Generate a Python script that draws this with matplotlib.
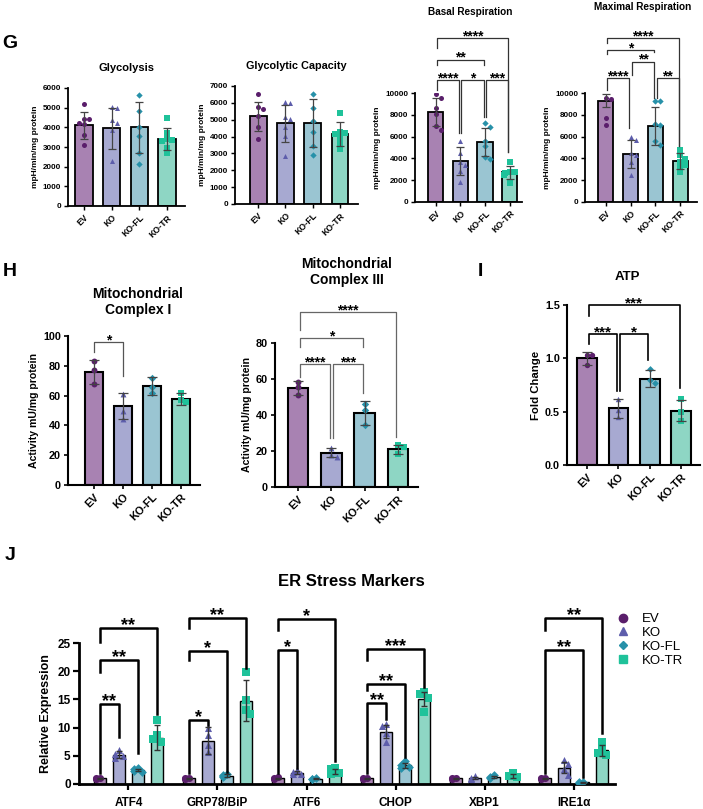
import numpy as np
import matplotlib
matplotlib.use("Agg")
import matplotlib.pyplot as plt
from matplotlib.lines import Line2D

plt.rcParams['font.family'] = ['Liberation Sans', 'DejaVu Sans']
plt.rcParams['font.weight'] = 'bold'
plt.rcParams['axes.labelweight'] = 'bold'
plt.rcParams['axes.titleweight'] = 'bold'

groups = ["EV", "KO", "KO-FL", "KO-TR"]
bar_colors = ["#A882B2", "#A7A9D1", "#9AC5D2", "#8ED6C4"]
dot_colors = ["#5A1E6B", "#5D5DAB", "#2791A9", "#1FC29A"]
markers = ["o", "^", "D", "s"]

# ---- G: Seahorse ----
glyco_mean = [4100, 3950, 4000, 3400]
glyco_sd = [700, 1030, 1300, 560]
glyco_pts = [[5190, 4420, 4400, 4230, 4150, 3610, 3100],
             [5050, 5000, 4370, 4230, 3860, 2290],
             [5650, 4850, 4000, 3550, 2700, 2150],
             [4450, 3700, 3400, 3350, 3300, 2950, 2700]]

cap_mean = [5200, 4800, 4800, 4150]
cap_sd = [850, 1100, 1400, 700]
cap_pts = [[6500, 5730, 5640, 5220, 4590, 3840],
           [6070, 5970, 5180, 5020, 4590, 4030, 2850],
           [6500, 5700, 4900, 4300, 3450, 2900],
           [5380, 4300, 4230, 4150, 3990, 3600, 3240]]

basal_mean = [8300, 3750, 5500, 2700]
basal_sd = [1300, 1280, 1320, 600]
basal_pts = [[9900, 9550, 8600, 8050, 7000, 6650],
             [5600, 4450, 3650, 3400, 2850, 1850],
             [7300, 6900, 5600, 5100, 4100, 3950],
             [3700, 2750, 2700, 2650, 2500, 1700]]

maxres_mean = [9300, 4400, 7000, 3750]
maxres_sd = [600, 1250, 1750, 700]
maxres_pts = [[9600, 9500, 7750, 7100],
              [5950, 5700, 4450, 4300, 3700, 2500],
              [9300, 9300, 7200, 7100, 5600, 5200],
              [4800, 4300, 3900, 3700, 3400, 3200, 2700]]

# ---- H: complex activity ----
c1_mean = [76, 53, 66.5, 58]
c1_sd = [8, 9, 6, 4]
c1_pts = [[83, 77, 68], [61, 50, 44], [72, 66, 62], [62, 57, 56]]

c3_mean = [55, 19, 41, 21]
c3_sd = [4, 2.5, 6.5, 2.5]
c3_pts = [[58.4, 55.3, 50.9], [21.5, 18, 17], [46, 43, 34.5], [23.5, 22.5, 18.5]]

# ---- I: ATP ----
atp_mean = [1.0, 0.53, 0.81, 0.51]
atp_sd = [0.06, 0.09, 0.08, 0.10]
atp_pts = [[1.03, 1.03, 0.94], [0.62, 0.52, 0.45], [0.90, 0.80, 0.77], [0.62, 0.50, 0.41]]

# ---- J: ER stress markers ----
er_genes = ["ATF4", "GRP78/BiP", "ATF6", "CHOP", "XBP1", "IRE1\u03b1"]
er_mean = [[1.0, 1.0, 1.0, 1.0, 1.0, 1.0],
           [5.2, 7.7, 2.0, 9.3, 1.1, 2.9],
           [2.5, 1.5, 0.9, 3.3, 1.2, 0.3],
           [8.2, 14.8, 2.2, 15.1, 1.4, 6.0]]
er_sd = [[0.1, 0.1, 0.1, 0.1, 0.1, 0.1],
         [0.6, 2.4, 0.3, 1.2, 0.2, 1.0],
         [0.2, 0.2, 0.1, 0.4, 0.2, 0.1],
         [2.2, 3.6, 0.5, 1.2, 0.3, 1.0]]
er_pts = [[[1.1, 1.0, 0.9], [1.1, 1.0, 0.9], [1.2, 1.0, 0.9], [1.1, 1.0, 0.9], [1.1, 1.0, 0.9], [1.1, 1.0, 0.9]],
          [[6.0, 5.4, 5.0, 4.6], [9.9, 8.6, 6.9, 5.6], [2.4, 2.1, 1.8, 1.7], [10.6, 10.2, 9.0, 7.5], [1.5, 1.1, 0.9], [4.3, 3.6, 2.6, 1.6]],
          [[2.9, 2.6, 2.3, 2.2], [1.8, 1.6, 1.4, 1.3], [1.1, 0.9, 0.8], [4.0, 3.4, 3.0, 2.8], [1.6, 1.3, 1.0], [0.4, 0.3, 0.2]],
          [[11.4, 8.6, 8.0, 7.4], [19.9, 14.9, 13.2, 12.4], [2.8, 2.6, 2.0, 1.8], [16.3, 15.9, 15.3, 12.8], [1.9, 1.5, 1.2], [7.4, 6.0, 5.5, 5.1]]]

# significance brackets: (from, to, height, left leg end, right leg end, label)
basal_sig = [(0, 3, 15100, 14200, 4600, '****'), (0, 2, 13100, 12600, 12600, '**'),
             (0, 1, 11200, 10300, 6300, '****'), (1, 2, 11200, 6300, 7800, '*'),
             (2, 3, 11200, 7800, 4600, '***')]
maxres_sig = [(0, 3, 15100, 14600, 5100, '****'), (0, 2, 14000, 13600, 13800, '*'),
              (1, 2, 12900, 11700, 9600, '**'), (0, 1, 11400, 10300, 6800, '****'),
              (2, 3, 11400, 9600, 5100, '**')]
c1_sig = [(0, 1, 96, 89.5, 73, '*')]
c3_sig = [(0, 3, 97, 87, 28, '****'), (0, 2, 82.4, 77.8, 77.4, '*'),
          (0, 1, 68, 61.2, 27, '****'), (1, 2, 68, 27, 52, '***')]
atp_sig = [(0, 3, 1.5, 1.4, 0.72, '***'), (0, 1, 1.225, 1.13, 0.69, '***'),
           (1, 2, 1.225, 0.69, 0.98, '*')]
# (gene, from, to, height, left leg end, right leg end, label)
er_sig = [(0, 0, 1, 14.1, 1.9, 8.4, '**'), (0, 0, 2, 22, 19.9, 5.5, '**'), (0, 0, 3, 27.6, 25.2, 12.5, '**'),
          (1, 0, 1, 11.35, 1.9, 10.5, '*'), (1, 0, 2, 23.6, 22, 2.2, '*'), (1, 0, 3, 29.4, 27.6, 20.5, '**'),
          (2, 0, 1, 23.8, 1.9, 2.8, '*'), (2, 0, 3, 29.2, 27.3, 4.0, '*'),
          (3, 0, 1, 14.3, 1.9, 11.6, '**'), (3, 0, 2, 17.7, 16.7, 4.8, '**'), (3, 0, 3, 23.9, 22, 17.2, '***'),
          (5, 0, 2, 23.8, 1.9, 1.2, '**'), (5, 0, 3, 29.4, 27.3, 9.1, '**')]

W, H = 703, 809
fig = plt.figure(figsize=(W / 100, H / 100), dpi=100)


def box(l, t, r, b):
    return fig.add_axes([l / W, 1 - b / H, (r - l) / W, (b - t) / H])


def ftext(x, y, s, **kw):
    fig.text(x / W, 1 - y / H, s, **kw)


def swarm(ax, x0, ys, d_px, max_px):
    tr = ax.transData
    px0 = tr.transform((x0, 0))[0]
    placed, xs = [], []
    for y in ys:
        py = tr.transform((x0, y))[1]
        for k in [0, 1, -1, 2, -2, 3, -3]:
            px = px0 + np.clip(k * d_px, -max_px, max_px)
            if all(np.hypot(px - qx, py - qy) >= d_px * 0.95 for qx, qy in placed):
                break
        placed.append((px, py))
        xs.append(tr.inverted().transform((px, py))[0])
    return xs


def style(ax, xlim, ylim, yticks, tfs, lw, xfs, ylab, yfs):
    ax.set_xlim(xlim)
    ax.set_ylim(ylim)
    ax.set_yticks(yticks)
    ax.spines[['top', 'right']].set_visible(False)
    ax.spines[['left', 'bottom']].set_linewidth(lw)
    ax.tick_params(axis='y', labelsize=tfs, width=lw * 0.8, length=3, pad=2)
    ax.tick_params(axis='x', width=lw * 0.8, length=3, pad=2)
    ax.set_xticks(range(4))
    ax.set_xticklabels(groups, rotation=45, ha='right', rotation_mode='anchor', fontsize=xfs)
    ax.set_ylabel(ylab, fontsize=yfs, labelpad=3)


def bars(ax, means, sds, pts, ms, d_px, ecol, lw, cap):
    x = np.arange(4)
    ax.bar(x, means, width=0.62, color=bar_colors, edgecolor='black', linewidth=lw, zorder=2)
    half = ax.transData.transform((0.24, 0))[0] - ax.transData.transform((0, 0))[0]
    for k in range(4):
        xs = swarm(ax, k, pts[k], d_px, half)
        s = ms * (0.8 if markers[k] == 'D' else 1.0)
        ax.scatter(xs, pts[k], marker=markers[k], s=s, color=dot_colors[k], linewidths=0, zorder=3)
    ax.errorbar(x, means, yerr=sds, fmt='none', ecolor=ecol, elinewidth=0.9, capsize=cap, capthick=0.9, zorder=4)


def brackets(ax, sigs, xpos, color, lw, fs, dx, off=-1.5):
    for i, j, h, yl, yr, lab in sigs:
        xa, xb = xpos[i] + dx, xpos[j] - dx
        ax.plot([xa, xa, xb, xb], [yl, h, h, yr], color=color, lw=lw, clip_on=False, zorder=5)
        ax.annotate(lab, ((xa + xb) / 2, h), xytext=(0, off), textcoords='offset points',
                    ha='center', va='baseline', fontsize=fs, fontweight='bold', annotation_clip=False)


# ---------- G ----------
ylab_g = "mpH/min/mg protein"
ax = box(68, 88, 185, 206)
style(ax, (-0.58, 3.65), (0, 6000), range(0, 6001, 1000), 5.8, 1.3, 6.3, ylab_g, 6)
bars(ax, glyco_mean, glyco_sd, glyco_pts, 13, 5.0, '#444444', 1.3, 2.6)
ax.set_title("Glycolysis", fontsize=8, pad=12)

ax = box(235, 86, 358, 204)
style(ax, (-0.85, 3.66), (0, 7000), range(0, 7001, 1000), 5.8, 1.3, 6.3, ylab_g, 6)
bars(ax, cap_mean, cap_sd, cap_pts, 13, 5.0, '#444444', 1.3, 2.6)
ax.set_title("Glycolytic Capacity", fontsize=7.8, pad=12)

ax = box(415, 93.3, 522, 201.7)
style(ax, (-0.83, 3.5), (0, 10000), range(0, 10001, 2000), 5.8, 1.3, 6.3, ylab_g, 6)
bars(ax, basal_mean, basal_sd, basal_pts, 13, 5.0, '#444444', 1.3, 2.6)
brackets(ax, basal_sig, range(4), '#333333', 0.9, 10, 0.05)
ftext(470, 12, "Basal Respiration", fontsize=7.2, ha='center', va='center')

ax = box(585, 93.3, 697, 201.7)
style(ax, (-0.83, 3.67), (0, 10000), range(0, 10001, 2000), 5.8, 1.3, 6.3, ylab_g, 6)
bars(ax, maxres_mean, maxres_sd, maxres_pts, 13, 5.0, '#444444', 1.3, 2.6)
brackets(ax, maxres_sig, range(4), '#333333', 0.9, 10, 0.05)
ftext(643, 7, "Maximal Respiration", fontsize=7.2, ha='center', va='center')

# ---------- H ----------
ylab_h = "Activity mU/mg protein"
ax = box(68, 336, 200, 485)
style(ax, (-0.9, 3.66), (0, 100), range(0, 101, 20), 7.8, 1.5, 7.8, ylab_h, 7.6)
bars(ax, c1_mean, c1_sd, c1_pts, 18, 5.5, '#444444', 1.5, 3.5)
brackets(ax, c1_sig, range(4), '#555555', 0.9, 10, 0.0)
ftext(138, 302, "Mitochondrial\nComplex I", fontsize=10, ha='center', va='center', linespacing=1.1)

ax = box(275, 342.7, 418, 487.3)
style(ax, (-0.69, 3.6), (0, 80), range(0, 81, 20), 7.8, 1.5, 7.8, ylab_h, 7.6)
bars(ax, c3_mean, c3_sd, c3_pts, 18, 5.5, '#444444', 1.5, 3.5)
brackets(ax, c3_sig, range(4), '#666666', 0.9, 10, 0.05)
ftext(347, 272, "Mitochondrial\nComplex III", fontsize=10, ha='center', va='center', linespacing=1.1)

# ---------- I ----------
ax = box(567, 305, 700, 465)
style(ax, (-0.64, 3.6), (0, 1.5), [0, 0.5, 1.0, 1.5], 7.8, 1.5, 7.8, "Fold Change", 8.2)
ax.set_yticklabels(["0.0", "0.5", "1.0", "1.5"])
bars(ax, atp_mean, atp_sd, atp_pts, 15, 5.0, '#444444', 1.5, 3.5)
brackets(ax, atp_sig, range(4), 'black', 1.2, 11, 0.05)
ftext(627, 277, "ATP", fontsize=9.5, ha='center', va='center')

# ---------- J ----------
ax = box(79, 643, 615, 784)
ax.set_xlim(-0.556, 5.466)
ax.set_ylim(0, 25)
ax.set_yticks(range(0, 26, 5))
ax.spines[['top', 'right']].set_visible(False)
ax.spines[['left', 'bottom']].set_linewidth(2)
ax.tick_params(axis='y', labelsize=8.5, width=1.6, length=4, pad=2)
ax.tick_params(axis='x', labelsize=8.5, width=1.6, length=4, pad=5)
ax.set_xticks(range(len(er_genes)))
ax.set_xticklabels(er_genes)
ax.set_ylabel("Relative Expression", fontsize=9, labelpad=4)
step = 0.2135
half = ax.transData.transform((0.05, 0))[0] - ax.transData.transform((0, 0))[0]
for k in range(4):
    xk = np.arange(len(er_genes)) + (k - 1.5) * step
    ax.bar(xk, er_mean[k], width=0.14, color=bar_colors[k], edgecolor='black', linewidth=1.0, zorder=2)
    for g in range(len(er_genes)):
        xs = swarm(ax, xk[g], er_pts[k][g], 6.0, half)
        ax.scatter(xs, er_pts[k][g], marker=markers[k], s=26 if markers[k] != 'D' else 20,
                   color=dot_colors[k], linewidths=0, zorder=3)
    ax.errorbar(xk, er_mean[k], yerr=er_sd[k], fmt='none', ecolor='#333333', elinewidth=1,
                capsize=2, capthick=1, zorder=4)
for g, i, j, h, yl, yr, lab in er_sig:
    xpos = [g + (k - 1.5) * step for k in range(4)]
    brackets(ax, [(i, j, h, yl, yr, lab)], xpos, 'black', 1.8, 13, 0.0)
ftext(351, 581, "ER Stress Markers", fontsize=12, ha='center', va='center')

handles = [Line2D([], [], ls='none', marker=markers[k], color=dot_colors[k],
                  markersize=6 if markers[k] != 'D' else 4.5) for k in range(4)]
fig.legend(handles, groups, loc='upper left', bbox_to_anchor=(618 / W, 1 - 613 / H),
           frameon=False, prop={'size': 9.5, 'weight': 'normal'}, handlelength=0.8,
           handletextpad=1.0, labelspacing=0.12, borderpad=0, borderaxespad=0)

# panel letters
ftext(10, 43, "G", fontsize=14, ha='center', va='center')
ftext(10, 272, "H", fontsize=14, ha='center', va='center')
ftext(480, 272, "I", fontsize=14, ha='center', va='center')
ftext(10, 556, "J", fontsize=14, ha='center', va='center')

fig.savefig("out.png", dpi=100)
